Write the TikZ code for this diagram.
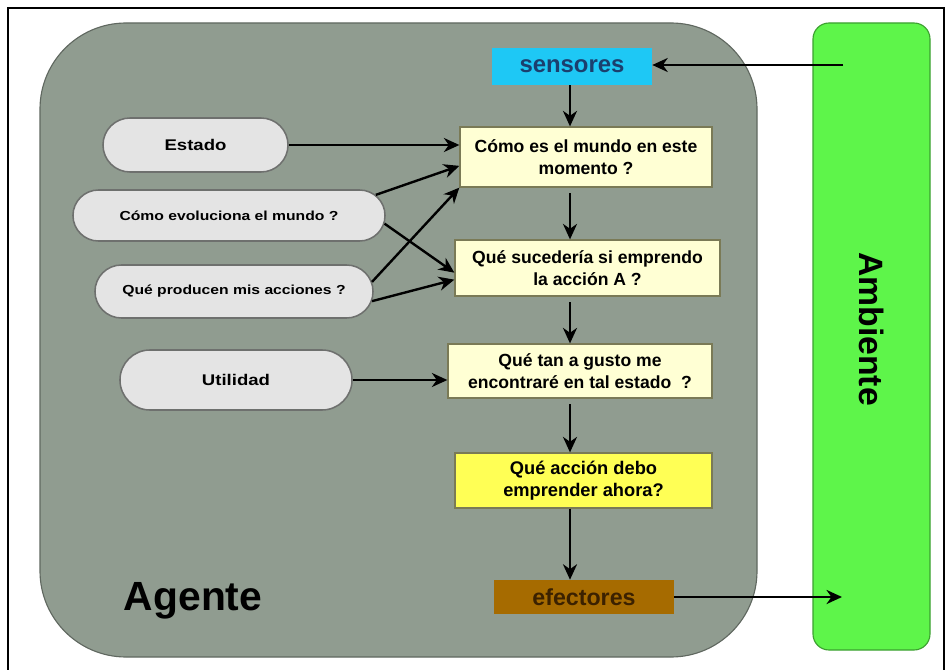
\documentclass[tikz,border=0pt]{standalone}
\usepackage{fontspec}
\setmainfont{Liberation Sans}
\newfontfamily\widefont{Liberation Sans}[FakeStretch=1.2]
\usetikzlibrary{arrows.meta,shapes.misc}

\definecolor{agentgray}{RGB}{144,156,144}
\definecolor{agentedge}{RGB}{96,104,96}
\definecolor{envgreen}{RGB}{94,245,74}
\definecolor{envedge}{RGB}{60,160,48}
\definecolor{cream}{RGB}{255,255,212}
\definecolor{brightyellow}{RGB}{255,255,85}
\definecolor{boxedge}{RGB}{122,122,86}
\definecolor{sensorcyan}{RGB}{30,200,245}
\definecolor{sensortext}{RGB}{27,63,110}
\definecolor{effbrown}{RGB}{166,107,0}
\definecolor{efftext}{RGB}{59,33,0}
\definecolor{pillfill}{RGB}{228,228,228}
\definecolor{pilledge}{RGB}{110,112,110}

\begin{document}
\begin{tikzpicture}[x=0.025cm,y=-0.025cm,
  questionbox/.style={draw=boxedge, line width=0.9pt, fill=cream, align=center,
    inner sep=0pt, font=\bfseries\fontsize{12.5}{15.5}\selectfont},
  pill/.style={rounded rectangle, draw=pilledge, fill=pillfill, line width=1.1pt,
    inner sep=0pt},
  pilltext/.style={font=\widefont\bfseries\fontsize{9.3}{11}\selectfont},
  pillbig/.style={font=\widefont\bfseries\fontsize{11}{13}\selectfont},
  portbox/.style={inner sep=0pt, font=\bfseries\fontsize{17}{20}\selectfont},
  arr/.style={-{Stealth[length=11pt,width=10pt,inset=3.5pt]}, line width=1.7pt, black},
  vgap/.style={shorten <=4pt}
]
\useasboundingbox (0,0) rectangle (948,670);
\fill[white] (0,0) rectangle (948,670);

% outer frame (open at the bottom edge)
\draw[line width=1.6pt] (8,676) -- (8,8) -- (944,8) -- (944,676);

% agent body and environment bar
\draw[agentedge, fill=agentgray, line width=0.8pt, rounded corners=2.15cm]
  (40,23) rectangle (757,657);
\draw[envedge, fill=envgreen, line width=0.8pt, rounded corners=0.4cm]
  (813,23) rectangle (930,650);
\node[rotate=-90, font=\bfseries\fontsize{24}{28}\selectfont] (ambiente) at (872,329) {Ambiente};

\node[anchor=base west, font=\bfseries\fontsize{29}{33}\selectfont] (agente) at (119,610) {Agente};

% ports
\node[portbox, fill=sensorcyan, text=sensortext, minimum width=4cm, minimum height=0.925cm]
  (sensores) at (572,66.5) {sensores};
\node[portbox, fill=effbrown, text=efftext, minimum width=4.5cm, minimum height=0.85cm,
  font=\bfseries\fontsize{16.5}{20}\selectfont]
  (efectores) at (584,597) {efectores};

% reasoning chain
\node[questionbox, minimum width=6.3cm, minimum height=1.5cm] (box1) at (586,157)
  {Cómo es el mundo en este\\momento ?};
\node[questionbox, minimum width=6.625cm, minimum height=1.4cm] (box2) at (587.5,268)
  {Qué sucedería si emprendo\\la acción A ?};
\node[questionbox, minimum width=6.6cm, minimum height=1.35cm] (box3) at (580,371)
  {Qué tan a gusto me\\encontraré en tal estado~ ?};
\node[questionbox, fill=brightyellow, minimum width=6.425cm, minimum height=1.375cm,
  font=\bfseries\fontsize{13}{16}\selectfont] (box4) at (583.5,480.5)
  {Qué acción debo\\emprender ahora?};

% knowledge pills
\node[pill, pillbig, minimum width=4.625cm, minimum height=1.35cm] (estado) at (195.5,145) {Estado};
\node[pill, pilltext, minimum width=7.8cm, minimum height=1.275cm] (evol) at (229,215.5) {Cómo evoluciona el mundo ?};
\node[pill, pilltext, minimum width=6.95cm, minimum height=1.325cm] (produce) at (234,291.5) {Qué producen mis acciones ?};
\node[pill, pillbig, minimum width=5.8cm, minimum height=1.5cm] (utilidad) at (236,380) {Utilidad};

% connectors
\coordinate (colx) at (570,0);
\coordinate (envin) at (843,65);
\coordinate (envout) at (842,597);

\draw[arr] (envin) -- (envin -| sensores.east);
\draw[arr] (sensores.south -| colx) -- (box1.north -| colx);
\draw[arr, vgap] (box1.south -| colx) -- (box2.north -| colx);
\draw[arr, vgap] (box2.south -| colx) -- (box3.north -| colx);
\draw[arr, vgap] (box3.south -| colx) -- (box4.north -| colx);
\draw[arr] (box4.south -| colx) -- (efectores.north -| colx);
\draw[arr] (efectores.east) -- (efectores.east -| envout);

\draw[arr] (estado.east) -- (estado.east -| box1.west);
\draw[arr] (evol.8) -- (box1.184);
\draw[arr] (evol.-3) -- (box2.182);
\draw[arr] (produce.4) -- (box1.south west);
\draw[arr] (produce.-4) -- (box2.185);
\draw[arr] (utilidad.east) -- (utilidad.east -| box3.west);
\end{tikzpicture}
\end{document}
